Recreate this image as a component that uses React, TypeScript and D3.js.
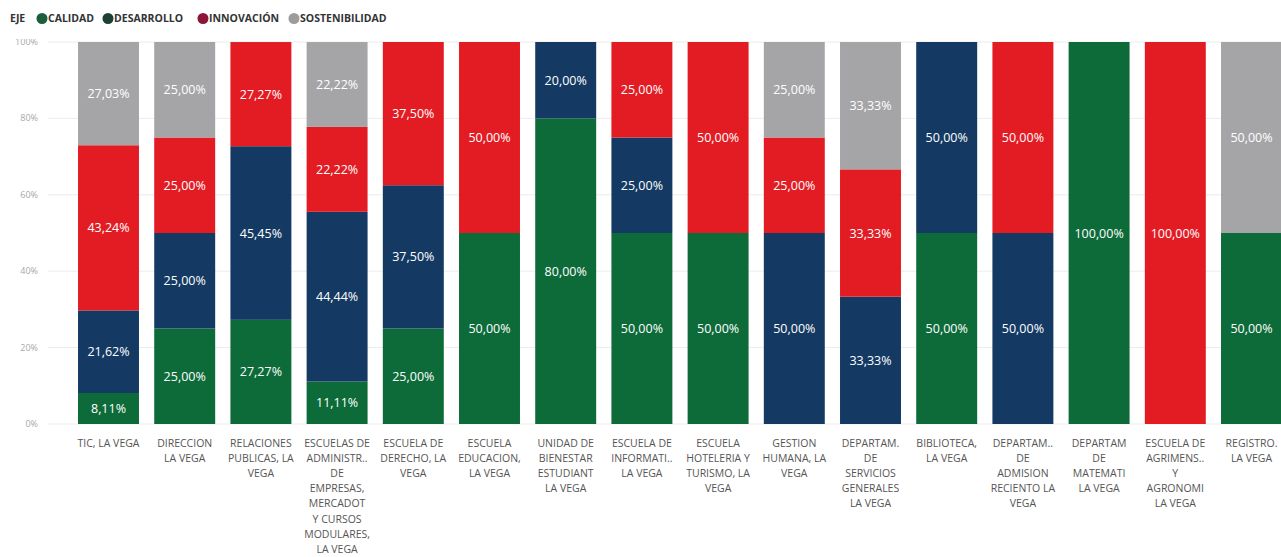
import * as d3 from "d3";

const keys = ["calidad", "desarrollo", "innovacion", "sostenibilidad"] as const;
const legendLabels = ["CALIDAD", "DESARROLLO", "INNOVACIÓN", "SOSTENIBILIDAD"];

const categories = [
  ["TIC, LA VEGA"],
  ["DIRECCION", "LA VEGA"],
  ["RELACIONES", "PUBLICAS, LA", "VEGA"],
  ["ESCUELAS DE", "ADMINISTR..", "DE", "EMPRESAS,", "MERCADOT", "Y CURSOS", "MODULARES,", "LA VEGA"],
  ["ESCUELA DE", "DERECHO, LA", "VEGA"],
  ["ESCUELA", "EDUCACION,", "LA VEGA"],
  ["UNIDAD DE", "BIENESTAR", "ESTUDIANT", "LA VEGA"],
  ["ESCUELA DE", "INFORMATI..", "LA VEGA"],
  ["ESCUELA", "HOTELERIA Y", "TURISMO, LA", "VEGA"],
  ["GESTION", "HUMANA, LA", "VEGA"],
  ["DEPARTAM.", "DE", "SERVICIOS", "GENERALES", "LA VEGA"],
  ["BIBLIOTECA,", "LA VEGA"],
  ["DEPARTAM..", "DE", "ADMISION", "RECIENTO LA", "VEGA"],
  ["DEPARTAM", "DE", "MATEMATI", "LA VEGA"],
  ["ESCUELA DE", "AGRIMENS..", "Y", "AGRONOMI", "LA VEGA"],
  ["REGISTRO.", "LA VEGA"],
];

const calidad = [8.11, 25, 27.27, 11.11, 25, 50, 80, 50, 50, 0, 0, 50, 0, 100, 0, 50];
const desarrollo = [21.62, 25, 45.45, 44.44, 37.5, 0, 20, 25, 0, 50, 33.33, 50, 50, 0, 0, 0];
const innovacion = [43.24, 25, 27.27, 22.22, 37.5, 50, 0, 25, 50, 25, 33.33, 0, 50, 0, 100, 0];
const sostenibilidad = [27.03, 25, 0, 22.22, 0, 0, 0, 0, 0, 25, 33.33, 0, 0, 0, 0, 50];

const yTicks = [0, 20, 40, 60, 80, 100];

const barColors = ["#0d6b3a", "#143a63", "#e31c24", "#a5a5a7"];
const legendColors = ["#1b5e3d", "#1c4035", "#8c1639", "#9c9c9c"];

const width = 1281;
const height = 557;

export default function App() {
  const rows = categories.map((c, i) => ({
    idx: i,
    calidad: calidad[i],
    desarrollo: desarrollo[i],
    innovacion: innovacion[i],
    sostenibilidad: sostenibilidad[i],
  }));

  const x = d3
    .scaleBand<number>()
    .domain(rows.map((r) => r.idx))
    .range([70.4, 1289.6])
    .paddingInner(0.2)
    .paddingOuter(0.1);
  const y = d3.scaleLinear().domain([0, 100]).range([424, 42]);

  const series = d3.stack<(typeof rows)[number]>().keys(keys as unknown as string[])(rows);

  const fmt = (v: number) => d3.format(".2f")(v).replace(".", ",") + "%";

  const legendX = [42, 108, 203, 294];

  return (
    <div style={{ position: "fixed", left: 0, top: 0 }}>
      <svg width={width} height={height} style={{ display: "block", background: "#fff" }}>
        <defs>
          <clipPath id="yclip">
            <rect x={0} y={39} width={70} height={420} />
          </clipPath>
        </defs>

        {/* legend */}
        <g fontFamily="'Open Sans', sans-serif" fontSize={10.5} fontWeight={700} fill="#333">
          <text x={10} y={22}>EJE</text>
          {legendLabels.map((l, i) => (
            <g key={l}>
              <circle cx={legendX[i]} cy={18.5} r={5.5} fill={legendColors[i]} />
              <text x={legendX[i] + 6} y={22}>{l}</text>
            </g>
          ))}
        </g>

        {/* grid + y axis */}
        <g clipPath="url(#yclip)" fontFamily="'Open Sans', sans-serif" fontSize={9} fill="#a8a8a8">
          {yTicks.map((t) => (
            <text key={t} x={38} y={y(t) + 3} textAnchor="end">
              {t}%
            </text>
          ))}
        </g>
        {yTicks.map((t) => (
          <line key={t} x1={48} x2={width} y1={y(t)} y2={y(t)} stroke="#ececec" strokeWidth={1} />
        ))}

        {/* bars */}
        {series.map((s, si) => (
          <g key={s.key} fill={barColors[si]}>
            {s.map((d, i) =>
              d[1] - d[0] > 0 ? (
                <rect
                  key={i}
                  x={x(i)}
                  y={y(d[1])}
                  width={x.bandwidth()}
                  height={y(d[0]) - y(d[1])}
                />
              ) : null
            )}
          </g>
        ))}

        {/* data labels */}
        <g fontFamily="'Open Sans', sans-serif" fontSize={12.5} fill="#fff" textAnchor="middle">
          {series.map((s) =>
            s.map((d, i) =>
              d[1] - d[0] > 0 ? (
                <text key={s.key + i} x={(x(i) ?? 0) + x.bandwidth() / 2} y={(y(d[0]) + y(d[1])) / 2 + 4.5}>
                  {fmt(d[1] - d[0])}
                </text>
              ) : null
            )
          )}
        </g>

        {/* x labels */}
        <g fontFamily="'Open Sans', sans-serif" fontSize={10.5} fill="#555" textAnchor="middle">
          {categories.map((lines, i) => (
            <text key={i} x={(x(i) ?? 0) + x.bandwidth() / 2} y={447}>
              {lines.map((ln, k) => (
                <tspan key={k} x={(x(i) ?? 0) + x.bandwidth() / 2} dy={k === 0 ? 0 : 15.1}>
                  {ln}
                </tspan>
              ))}
            </text>
          ))}
        </g>
      </svg>
    </div>
  );
}
